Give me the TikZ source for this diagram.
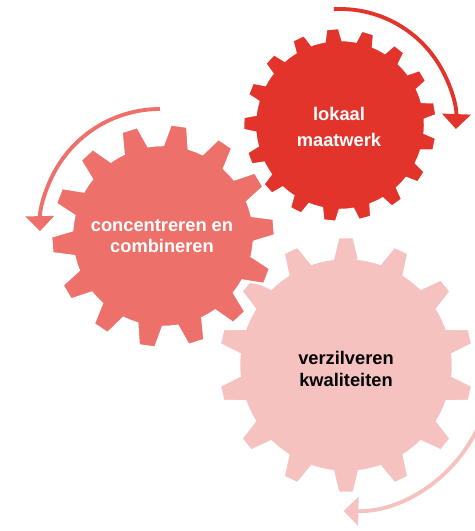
\documentclass[tikz,border=0pt]{standalone}
\usepackage{fontspec}
\setmainfont{Liberation Sans}
\usetikzlibrary{arrows.meta,calc}

\definecolor{gearred}{RGB}{227,52,44}
\definecolor{gearsalmon}{RGB}{237,113,106}
\definecolor{gearpink}{RGB}{246,194,192}

\tikzset{
  gearfill/.style={fill=#1, draw=white, line width=1.4pt, line join=miter},
  turnarrow/.style={draw=#1, line width=2.2pt, -{Triangle[length=8.5pt,width=16pt]}},
  gearlabel/.style={align=center, font=\bfseries\fontsize{10.4pt}{#1}\selectfont}
}

% centre, teeth, first tooth angle, tip radius, root radius, tip half angle, base half angle, style
\newcommand{\gearwheel}[8]{%
  \pgfmathsetmacro{\gearstep}{360/#2}
  \begin{scope}[shift={(#1)}]
    \path[#8] (#3-#7:#5) \foreach \k in {1,...,#2}{
        -- ({#3+(\k-1)*\gearstep-#7}:#5)
        -- ({#3+(\k-1)*\gearstep-#6}:#4)
        -- ({#3+(\k-1)*\gearstep+#6}:#4)
        -- ({#3+(\k-1)*\gearstep+#7}:#5)
        arc[start angle={#3+(\k-1)*\gearstep+#7}, end angle={#3+\k*\gearstep-#7}, radius=#5]
      } -- cycle;
  \end{scope}
}

\begin{document}
\begin{tikzpicture}[x=0.02cm,y=0.02cm]
  \useasboundingbox (0,0) rectangle (475,531);

  \coordinate (redc) at (340,406);
  \coordinate (salmonc) at (163,295);
  \coordinate (pinkc) at (346,166);

  \gearwheel{pinkc}{14}{90}{128}{107}{3.5}{7}{gearfill=gearpink}
  \gearwheel{salmonc}{14}{4.6}{112}{91}{4.3}{8.2}{gearfill=gearsalmon}
  \gearwheel{redc}{17}{9.7}{97}{85}{3.84}{6.07}{gearfill=gearred}

  \coordinate (redturn) at ($(redc)+(93:116)$);
  \coordinate (salmonturn) at ($(160,302)+(90:120)$);
  \coordinate (pinkturn) at ($(pinkc)+(-20:146)$);

  \draw[turnarrow=gearred] (redturn) arc[start angle=93, end angle=-2, radius=116];
  \draw[turnarrow=gearsalmon] (salmonturn) arc[start angle=90, end angle=181, radius=120];
  \draw[turnarrow=gearpink] (pinkturn) arc[start angle=-20, end angle=-91, radius=146];

  \node[gearlabel=14.7pt, text=white] (lokaal) at (339,404) {lokaal\\maatwerk};
  \node[gearlabel=12.2pt, text=white] (concentreren) at (162,295) {concentreren en\\combineren};
  \node[gearlabel=12.9pt, text=black] (verzilveren) at (346,162) {verzilveren\\kwaliteiten};
\end{tikzpicture}
\end{document}
